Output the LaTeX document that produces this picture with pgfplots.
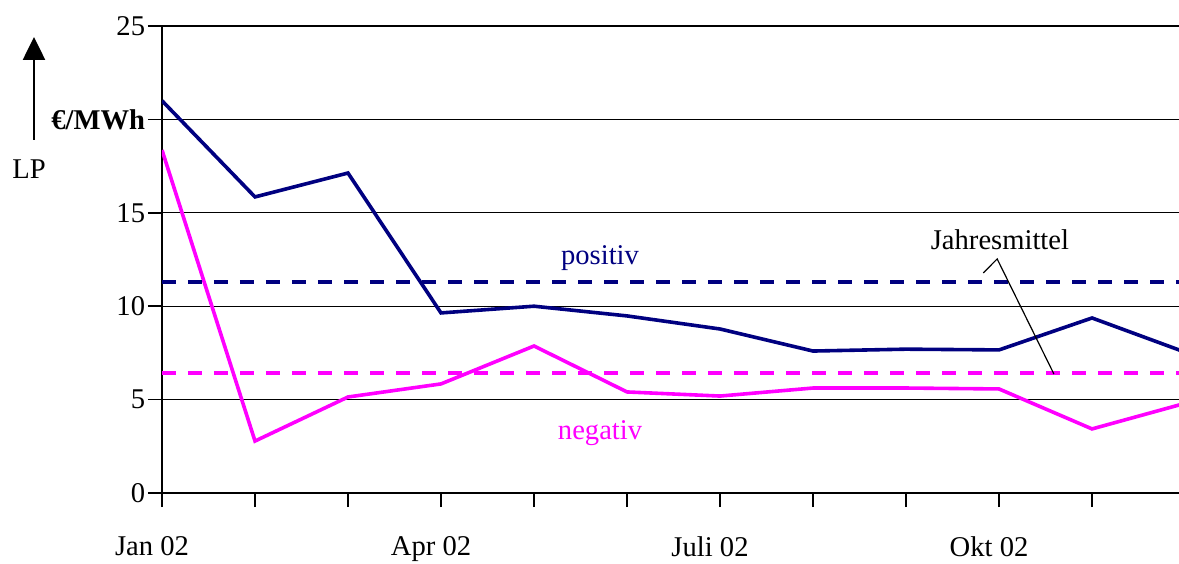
\documentclass[border=0pt]{standalone}
\usepackage{fontspec}
\setmainfont{Liberation Serif}
\usepackage{pgfplots}
\pgfplotsset{compat=1.18}
\usetikzlibrary{arrows.meta}
\definecolor{navy}{HTML}{000080}
\definecolor{mag}{HTML}{FF00FF}
\begin{document}
\fontsize{14.3}{17}\selectfont
\begin{tikzpicture}
\begin{axis}[
 scale only axis, width=508.5pt, height=233.5pt,
 xmin=0, xmax=10.935, ymin=0, ymax=25,
 axis lines*=left,
 xtick={0,...,11}, xticklabels={Jan 02,,,Apr 02,,,Juli 02,,,Okt 02,,},
 ytick={0,5,10,15,20,25}, yticklabels={0,5,10,15,\textbf{€/MWh},25},
 ymajorgrids, grid style={black, line width=0.6pt},
 tick align=outside, major tick length=7pt,
 tick style={black, line width=0.8pt},
 axis line style={black, line width=0.9pt},
 tick label style={font=\fontsize{14.3}{17}\selectfont},
 xticklabel style={yshift=-10pt, xshift=-5pt},
 yticklabel style={xshift=3.5pt},
 /pgf/number format/assume math mode=true,
 clip=true,
]
\addplot[navy, line width=1.8pt] coordinates {(0,21.0)(1,15.85)(2,17.13)(3,9.64)(4,10.0)(5,9.48)(6,8.78)(7,7.6)(8,7.7)(9,7.66)(10,9.37)(11,7.54)};
\addplot[mag, line width=1.8pt] coordinates {(0,18.36)(1,2.78)(2,5.14)(3,5.84)(4,7.87)(5,5.41)(6,5.19)(7,5.62)(8,5.62)(9,5.57)(10,3.43)(11,4.80)};
\addplot[navy, line width=2.2pt, dash pattern=on 7pt off 6pt] coordinates {(0,11.3)(11,11.3)};
\addplot[mag, line width=2.2pt, dash pattern=on 7pt off 6pt] coordinates {(0,6.42)(11,6.42)};
\node[navy] at (axis cs:4.71,12.58) {positiv};
\node[mag] at (axis cs:4.71,3.21) {negativ};
\node at (axis cs:9.01,13.54) {Jahresmittel};
\draw[black, line width=0.6pt] (axis cs:8.83,11.78) -- (axis cs:8.98,12.53) -- (axis cs:9.59,6.37);
\end{axis}
\draw[line width=1.3pt, -{Triangle[width=11pt,length=11.5pt]}] (-64pt,176.5pt) -- (-64pt,228pt);
\node at (-66.5pt,162pt) {LP};
\pgfresetboundingbox
\path (-81pt,-35pt) rectangle (508.5pt,246.5pt);
\end{tikzpicture}
\end{document}
